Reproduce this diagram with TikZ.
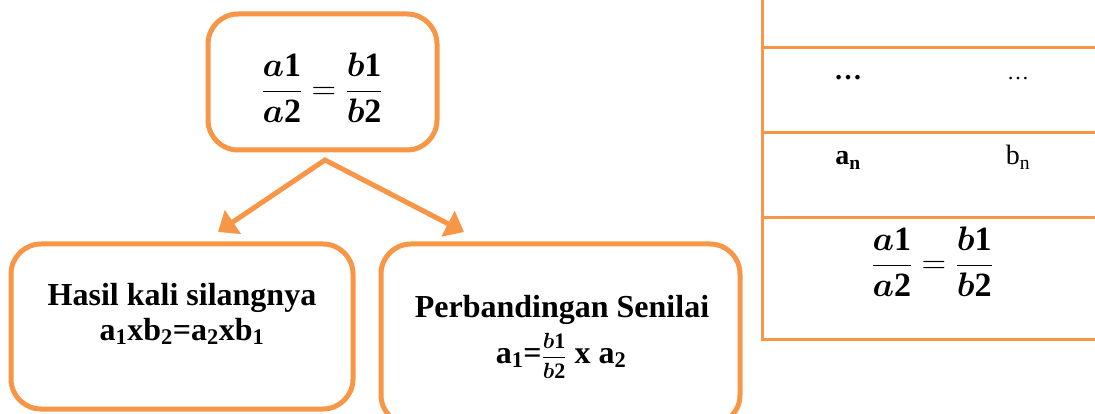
\RequirePackage{fix-cm}
\documentclass[tikz,border=0pt]{standalone}
\usepackage{amsmath,bm}
\usepackage{fontspec}
\setmainfont{Liberation Serif}
\usetikzlibrary{arrows.meta}
\definecolor{orng}{HTML}{F79646}
\begin{document}
\begin{tikzpicture}[x=1pt,y=-1pt,
  box/.style={draw=orng,line width=5pt,rounded corners=30pt,inner sep=0pt},
  conn/.style={draw=orng,line width=5pt,line join=miter,{Triangle[length=18pt,width=28pt]}-{Triangle[length=18pt,width=28pt]}},
  gridline/.style={draw=orng,line width=3pt},
  txt/.style={font=\bfseries\fontsize{32}{38}\selectfont,inner sep=0pt},
  ttxt/.style={font=\fontsize{28}{34}\selectfont,inner sep=0pt}]
\useasboundingbox (0,0) rectangle (1095,414);
% boxes
\node[box,minimum width=229pt,minimum height=136pt] (top) at (322.5,82) {};
\node[box,minimum width=342pt,minimum height=165pt] (left) at (182,326.5) {};
\node[box,minimum width=359pt,minimum height=181pt] (right) at (560.5,334.5) {};
% top formula
\node[inner sep=0pt] (f1) at (322,88) {\fontsize{34}{40}\selectfont$\displaystyle\frac{\bm{a}\mathbf{1}}{\bm{a}\mathbf{2}}=\frac{\bm{b}\mathbf{1}}{\bm{b}\mathbf{2}}$};
% arrows
\coordinate (apex) at (325,160);
\coordinate (tipL) at (218,232);
\coordinate (tipR) at (464,232);
\draw[conn] (tipL) -- (apex) -- (tipR);
% left box text
\node[txt,anchor=base] (l1) at (182,305) {Hasil kali silangnya};
\node[txt,anchor=base] (l2) at (182,340) {a\textsubscript{1}xb\textsubscript{2}=a\textsubscript{2}xb\textsubscript{1}};
% right box text
\node[txt,anchor=base] (r1) at (562,317) {Perbandingan Senilai};
\node[txt,anchor=base] (r2) at (561,363) {a\textsubscript{1}={\fontsize{22}{26}\selectfont$\displaystyle\frac{\bm{b}\mathbf{1}}{\bm{b}\mathbf{2}}$} x a\textsubscript{2}};
% table
\draw[gridline] (762,-3) -- (762,339) -- (1100,339);
\draw[gridline] (762,48) -- (1100,48);
\draw[gridline] (762,133) -- (1100,133);
\draw[gridline] (762,218) -- (1100,218);
\node[ttxt,font=\bfseries\fontsize{28}{34}\selectfont,anchor=base] (d1) at (848,80) {…};
\node[ttxt,font=\fontsize{22}{26}\selectfont,anchor=base] (d2) at (1018,80) {…};
\node[ttxt,font=\bfseries\fontsize{28}{34}\selectfont,anchor=base] (an) at (848,165) {a\textsubscript{n}};
\node[ttxt,anchor=base] (bn) at (1018,165) {b\textsubscript{n}};
\node[inner sep=0pt] (f2) at (932,262) {\fontsize{34}{40}\selectfont$\displaystyle\frac{\bm{a}\mathbf{1}}{\bm{a}\mathbf{2}}=\frac{\bm{b}\mathbf{1}}{\bm{b}\mathbf{2}}$};
\end{tikzpicture}
\end{document}
